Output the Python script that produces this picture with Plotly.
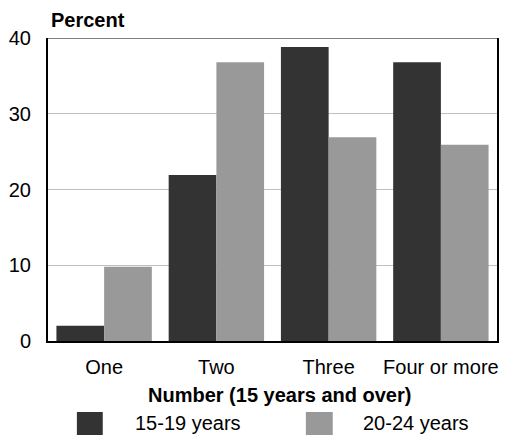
import plotly.graph_objects as go

categories = ["One", "Two", "Three", "Four or more"]
series_names = ["15-19 years", "20-24 years"]
teen_values = [2.0, 21.9, 38.8, 36.8]
young_values = [9.8, 36.8, 26.9, 25.9]
y_ticks = [0, 10, 20, 30, 40]
colors = ["#333333", "#999999"]

FONT = "Liberation Sans, Arial, sans-serif"
W, H = 505, 435
ML, MR, MT, MB = 48, 6, 38, 94
PW = W - ML - MR
PH = H - MT - MB


def px_x(px):
    return (px - ML) / PW


def px_y(py):
    return (H - MB - py) / PH


fig = go.Figure()
for name, vals, col in zip(series_names, [teen_values, young_values], colors):
    fig.add_trace(go.Bar(x=categories, y=vals, name=name, marker=dict(color=col, line=dict(width=0)),
                         showlegend=False))

shapes = [
    dict(type="line", xref="paper", yref="y", x0=0, x1=1, y0=40, y1=40,
         line=dict(color="#808080", width=2)),
]
annotations = [
    dict(text="<b>Percent</b>", xref="paper", yref="paper", x=px_x(49), y=px_y(20),
         xanchor="left", yanchor="middle", showarrow=False, font=dict(size=20, color="black", family=FONT)),
    dict(text="<b>Number (15 years and over)</b>", xref="paper", yref="paper", x=px_x(280.5), y=px_y(395),
         xanchor="center", yanchor="middle", showarrow=False, font=dict(size=20, color="black", family=FONT)),
]
legend_boxes = [(77, 103, 133), (307, 334, 362)]
for (x0, x1, tx), name, col in zip(legend_boxes, series_names, colors):
    shapes.append(dict(type="rect", xref="paper", yref="paper", x0=px_x(x0), x1=px_x(x1),
                       y0=px_y(412), y1=px_y(436), fillcolor=col, line=dict(width=0)))
    annotations.append(dict(text=name, xref="paper", yref="paper", x=px_x(tx), y=px_y(423),
                            xanchor="left", yanchor="middle", showarrow=False,
                            font=dict(size=20, color="black", family=FONT)))

fig.update_layout(
    width=W, height=H,
    margin=dict(l=ML, r=MR, t=MT, b=MB, pad=0),
    paper_bgcolor="white", plot_bgcolor="white",
    barmode="group", bargap=0.15, bargroupgap=0,
    font=dict(family=FONT, size=20, color="black"),
    showlegend=False,
    shapes=shapes,
    annotations=annotations,
    xaxis=dict(showline=True, linecolor="black", linewidth=2, ticks="", showgrid=False,
               tickfont=dict(size=20), ticklabelstandoff=7, fixedrange=True),
    yaxis=dict(range=[0, 40], tickvals=y_ticks, showline=True, linecolor="black", linewidth=2,
               mirror=True, showgrid=True, gridcolor="#c0c0c0", gridwidth=1, ticks="",
               zeroline=False, tickfont=dict(size=20), ticklabelstandoff=11, fixedrange=True),
)

fig.write_html("out.html", config={"displayModeBar": False},
               post_script="document.body.style.margin='0';document.body.style.overflow='hidden';")
